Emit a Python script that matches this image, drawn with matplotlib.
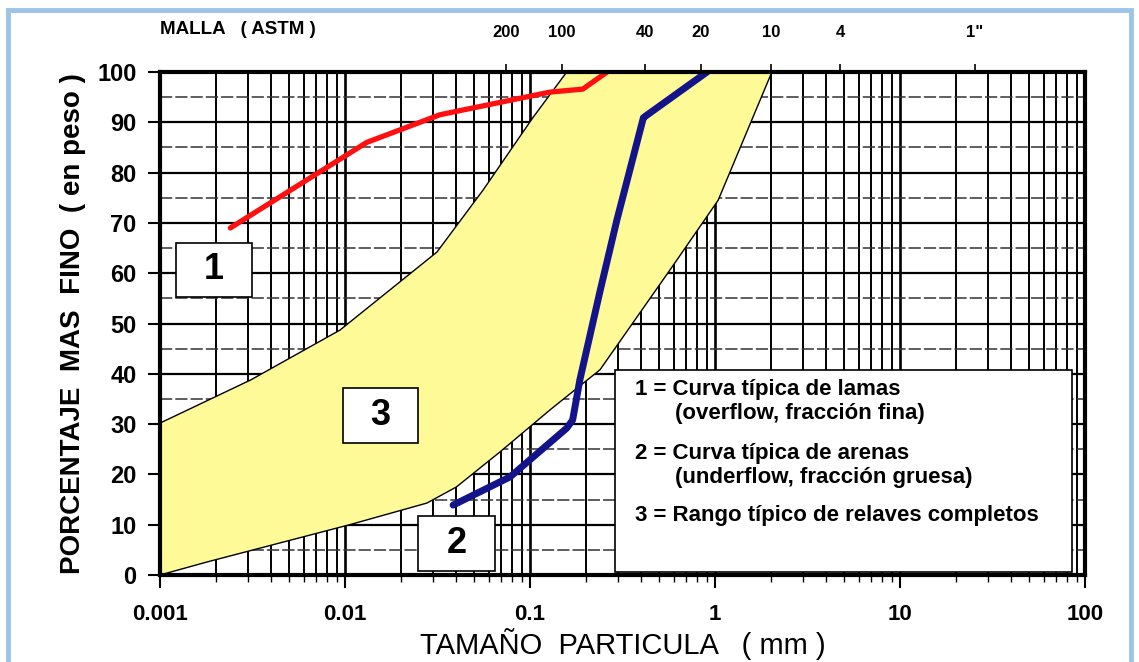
import matplotlib.pyplot as plt
import matplotlib.patches as patches
import numpy as np

# curva 1: lamas (overflow)
lamas_x = [0.0024, 0.0131, 0.0326, 0.128, 0.193, 0.261]
lamas_y = [69, 86, 91.5, 96, 96.6, 100]

# curva 2: arenas (underflow)
arenas_x = [0.0384, 0.078, 0.158, 0.17, 0.186, 0.24, 0.295, 0.41, 0.42, 0.906]
arenas_y = [13.9, 19.5, 29.2, 30.8, 38.8, 56.7, 70.6, 90.9, 91.2, 100]

# rango 3: relaves completos (limite superior e inferior)
sup_x = [0.001, 0.0031, 0.0094, 0.0314, 0.0557, 0.104, 0.158]
sup_y = [30.2, 38.8, 48.7, 64.2, 76.5, 91, 100]
inf_x = [0.001, 0.0018, 0.0106, 0.0277, 0.04, 0.069, 0.13, 0.239, 0.585, 1.04, 2.03]
inf_y = [0, 2.6, 10, 14.3, 17.5, 24.5, 33, 40.8, 61.2, 74.5, 100]

# mallas ASTM
mallas = ["200", "100", "40", "20", "10", "4", '1"']
mallas_mm = [0.074, 0.149, 0.42, 0.84, 2.0, 4.76, 25.4]

x_ticks = [0.001, 0.01, 0.1, 1, 10, 100]
x_labels = ["0.001", "0.01", "0.1", "1", "10", "100"]
y_ticks = list(range(0, 101, 10))

leyenda = [
    ("1 = Curva típica de lamas", False),
    ("(overflow, fracción fina)", True),
    ("2 = Curva típica de arenas", False),
    ("(underflow, fracción gruesa)", True),
    ("3 = Rango típico de relaves completos", False),
]

plt.rcParams["font.family"] = ["Liberation Sans", "DejaVu Sans"]

fig = plt.figure(figsize=(11.39, 6.62), dpi=100)
ax = fig.add_axes([160 / 1139, 87 / 662, 925 / 1139, 503 / 662])

ax.set_xscale("log")
ax.set_xlim(0.001, 100)
ax.set_ylim(0, 100)

# cuadricula semilog
for dec in [0.001, 0.01, 0.1, 1, 10]:
    for k in range(1, 10):
        xv = dec * k
        lw = 1.9 if k == 1 else 1.4
        ax.axvline(xv, color="black", lw=lw, zorder=1)
for yv in range(5, 100, 5):
    if yv % 10 == 0:
        ax.axhline(yv, color="black", lw=1.6, zorder=1)
    else:
        ax.axhline(yv, color="#333333", lw=1.1, ls=(0, (8, 2)), zorder=1)

# rango 3
poly_x = sup_x + inf_x[::-1]
poly_y = sup_y + inf_y[::-1]
ax.fill(poly_x, poly_y, facecolor="#fefa98", edgecolor="black", lw=1.0, zorder=2)

ax.plot(lamas_x, lamas_y, color="#ff1010", lw=3.8, zorder=4, solid_capstyle="round")
ax.plot(arenas_x, arenas_y, color="#14148a", lw=5, zorder=4, solid_capstyle="round")

for s in ax.spines.values():
    s.set_linewidth(3)
    s.set_zorder(5)

ax.set_xticks(x_ticks)
ax.set_xticklabels(x_labels, fontsize=16, fontweight="bold")
ax.set_yticks(y_ticks)
ax.set_yticklabels([str(v) for v in y_ticks], fontsize=17, fontweight="bold")
ax.tick_params(axis="both", which="major", length=9, width=1.5, direction="out", pad=8)
ax.tick_params(axis="x", which="major", pad=12)
ax.tick_params(axis="x", which="minor", length=5, width=1, direction="out")
ax.tick_params(axis="x", which="minor", labelbottom=False)

ax.set_xlabel("TAMAÑO  PARTICULA   ( mm )", fontsize=21, labelpad=2)
ax.set_ylabel("PORCENTAJE  MAS  FINO  ( en peso )", fontsize=20, fontweight="bold", labelpad=8)

# eje superior: mallas
top = ax.secondary_xaxis("top")
top.set_xticks(mallas_mm)
top.set_xticklabels(mallas, fontsize=12, fontweight="bold")
top.tick_params(length=6, width=1.2, pad=17)
top.xaxis.set_minor_locator(plt.NullLocator())
top.spines["top"].set_visible(False)
fig.text(160 / 1139, 1 - 30 / 662, "MALLA   ( ASTM )", fontsize=13.5,
         fontweight="bold", va="center", ha="left")

# etiquetas numeradas (x0, x1, y0, y1 en unidades de los ejes)
def caja(x0, x1, y0, y1, txt):
    ax.add_patch(patches.Rectangle((x0, y0), x1 - x0, y1 - y0, facecolor="white",
                                   edgecolor="black", lw=1.2, zorder=6))
    xc = np.sqrt(x0 * x1)
    ax.text(xc, (y0 + y1) / 2, txt, fontsize=26, fontweight="bold",
            ha="center", va="center", zorder=7)

caja(0.00122, 0.00314, 55.3, 66.0, "1")
caja(0.00975, 0.0248, 26.2, 37.2, "3")
caja(0.0248, 0.0647, 0.8, 11.7, "2")

# cuadro de leyenda
leg = patches.Rectangle((615 / 1139, 1 - 572 / 662), (1072 - 615) / 1139, (572 - 370) / 662,
                        transform=fig.transFigure, facecolor="white", edgecolor="black",
                        lw=1.2, zorder=7)
fig.patches.append(leg)
ys = [389, 413, 453, 477, 516]
for (t, sangria), yp in zip(leyenda, ys):
    xp = 675 if sangria else 635
    fig.text(xp / 1139, 1 - yp / 662, t, fontsize=16, fontweight="bold",
             va="center", ha="left", zorder=8)

# marco azul
marco = patches.Rectangle((8 / 1139, -0.02), (1131 - 8) / 1139, 1 - 10 / 662 + 0.02,
                          transform=fig.transFigure, facecolor="none",
                          edgecolor="#9dc3e6", lw=3.5)
fig.patches.append(marco)

fig.savefig("out.png", dpi=100)
